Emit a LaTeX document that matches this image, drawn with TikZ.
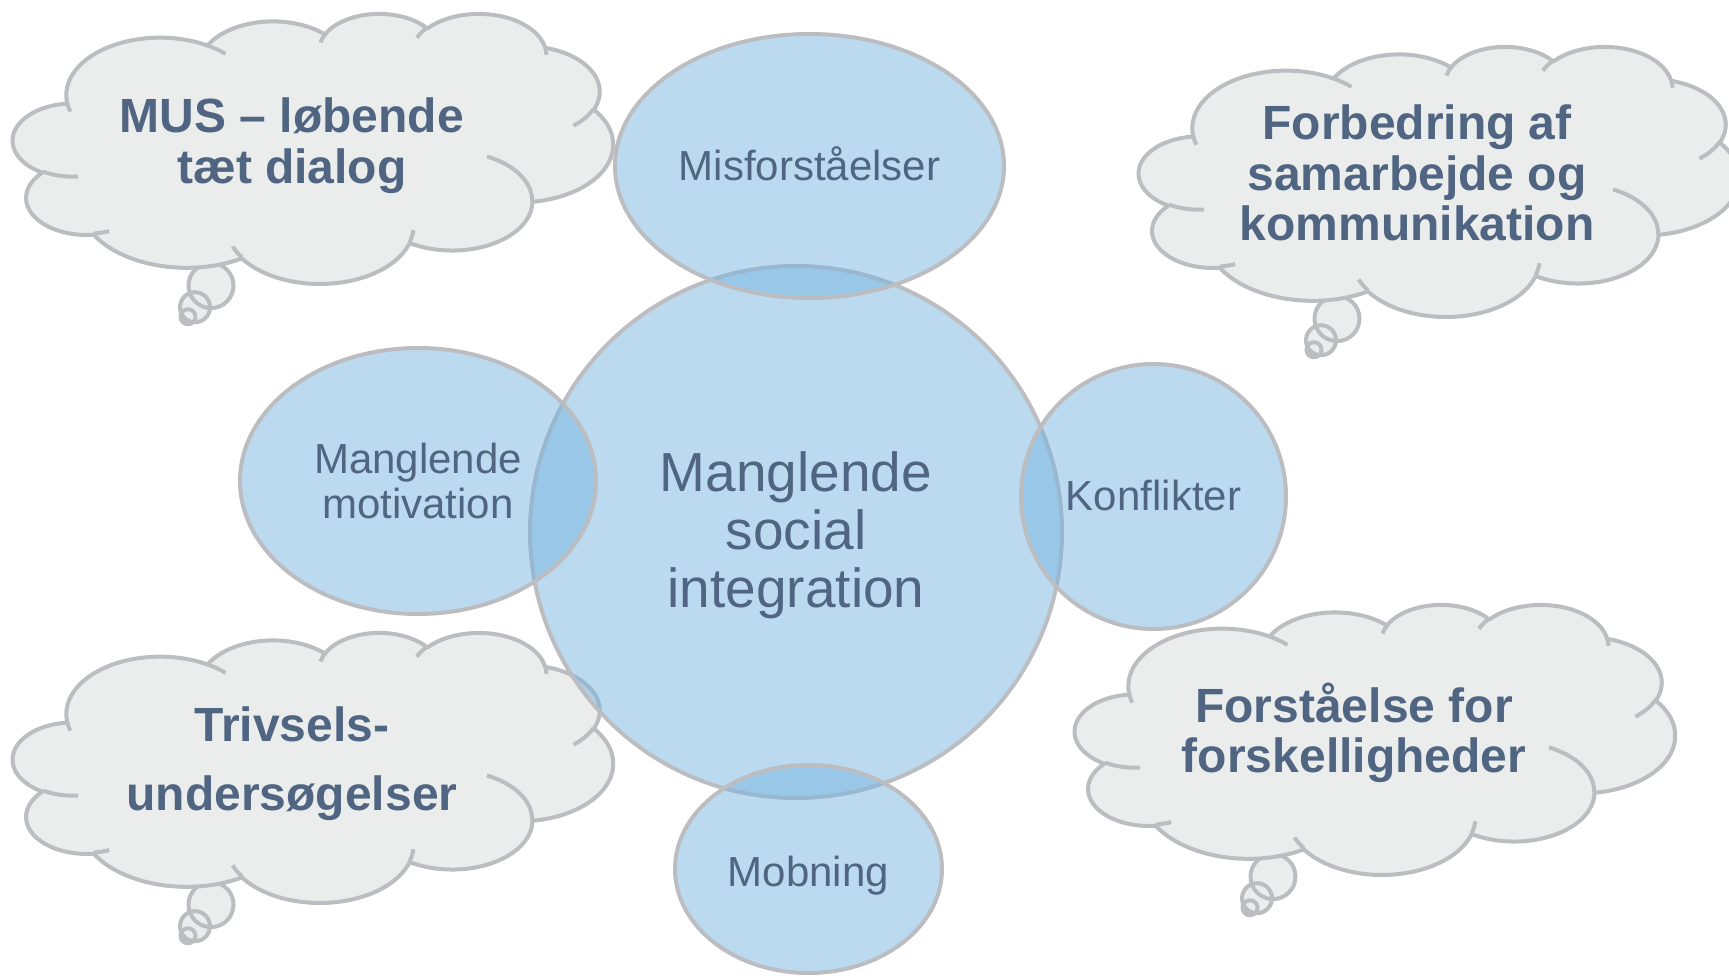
\documentclass[tikz,border=0pt]{standalone}
\usepackage{fontspec}
\setmainfont{Liberation Sans}
\usetikzlibrary{shapes.geometric}
\definecolor{vennfill}{RGB}{119,181,223}
\definecolor{edgegrey}{RGB}{188,189,192}
\definecolor{cloudfill}{RGB}{235,236,236}
\definecolor{txt}{RGB}{79,101,129}

% OOXML arcTo (geometric angles) -> TikZ parametric arcs
\gdef\oopath{}
\newcommand\ooarc[4]{%
  \pgfmathsetmacro\ooA{atan2((#1)*sin(#3),(#2)*cos(#3))}%
  \pgfmathsetmacro\ooB{atan2((#1)*sin((#3)+(#4)),(#2)*cos((#3)+(#4)))}%
  \pgfmathsetmacro\ooD{\ooB-(\ooA)}%
  \pgfmathsetmacro\ooD{ifthenelse((#4)>0,ifthenelse(\ooD<0,\ooD+360,\ooD),ifthenelse(\ooD>0,\ooD-360,\ooD))}%
  \xdef\oopath{\oopath arc[start angle=\ooA,delta angle=\ooD,x radius=#1,y radius=#2]}%
}
\newcommand\oomove[2]{\xdef\oopath{\oopath (#1,#2)}}

\gdef\oopath{}
\ooarc{6.753}{9.190}{-190.48748}{123.78053}
\ooarc{5.333}{7.267}{-144.10238}{89.94523}
\ooarc{4.365}{5.945}{-145.80792}{99.72302}
\ooarc{4.857}{6.595}{-130.98607}{117.24173}
\ooarc{5.333}{7.273}{-78.70888}{109.02692}
\ooarc{6.775}{9.220}{-46.26725}{130.269}
\ooarc{5.785}{7.867}{0.62502}{114.03333}
\ooarc{6.752}{9.215}{22.4516}{115.17255}
\ooarc{7.720}{10.543}{66.24263}{75.71102}
\ooarc{4.360}{5.918}{-274.94208}{146.73557}
\ooarc{4.345}{5.945}{-246.8285}{152.51885}
\global\let\cloudmain\oopath

\gdef\oopath{}
\oomove{4.693}{26.177}\ooarc{4.345}{5.945}{86.742}{26.4295}
\oomove{6.928}{34.899}\ooarc{4.360}{5.918}{73.61047}{11.44747}
\oomove{16.478}{39.090}\ooarc{6.752}{9.215}{137.62415}{14.0811}
\oomove{28.827}{34.751}\ooarc{6.752}{9.215}{6.45327}{15.99835}
\oomove{34.129}{22.954}\ooarc{5.785}{7.867}{-70.29235}{70.91737}
\oomove{41.798}{15.354}\ooarc{5.333}{7.273}{30.31803}{27.7515}
\oomove{38.324}{5.426}\ooarc{4.857}{6.595}{-13.74433}{14.8589}
\oomove{29.078}{3.952}\ooarc{4.857}{6.595}{-149.18145}{18.19537}
\oomove{22.141}{4.720}\ooarc{4.365}{5.945}{-163.49427}{17.68635}
\oomove{14.000}{5.192}\ooarc{6.753}{9.190}{-66.70695}{12.31935}
\oomove{4.127}{15.789}\ooarc{6.753}{9.190}{157.65435}{11.85817}
\global\let\cloudinner\oopath

\newcommand\cloudfillpath[1]{\path[cloudbody] (3.9,14.37) #1 -- cycle;}
\newcommand\cloudlinepath[1]{\path[cloudline] #1;}
\newcommand\cloudat[2]{%
  \begin{scope}[shift={(#1,#2)}]
    \path[fill=cloudfill] (198,272.6) circle[radius=22.5] (182,294.2) circle[radius=15] (175,303.75) circle[radius=7.5];
    \path[cloudline] (198,272.6) circle[radius=22.5] (182,294.2) circle[radius=15] (175,303.75) circle[radius=7.5];
  \end{scope}
  \begin{scope}[shift={(#1,#2)}, xscale=13.8889, yscale=6.25]
    \expandafter\cloudfillpath\expandafter{\cloudmain}
    \expandafter\cloudlinepath\expandafter{\cloudinner}
  \end{scope}
}

\tikzset{
  cloudbody/.style={fill=cloudfill, draw=edgegrey, line width=4pt, line join=round},
  cloudline/.style={draw=edgegrey, line width=4pt},
  cloudtext/.style={text=txt, align=center, font={\fontsize{48}{50.5}\selectfont\bfseries}},
  venn/.style={ellipse, draw=edgegrey, line width=4pt, fill=vennfill, fill opacity=0.5,
    draw opacity=1, inner sep=0pt},
  venntext/.style={text=txt, align=center, inner sep=0pt, font={\fontsize{42}{45}\selectfont}},
}

\begin{document}
\begin{tikzpicture}[x=1pt, y=-1pt]
  \useasboundingbox (0,0) rectangle (1729,976);
  \clip (0,0) rectangle (1729,976);

  % thought clouds
  \cloudat{13}{13}
  \cloudat{1139}{46}
  \cloudat{13}{632}
  \cloudat{1075}{604}

  \node[cloudtext] (mus) at (292,145.5) {MUS – løbende\\tæt dialog};
  \node[cloudtext] (forb) at (1417,173) {Forbedring af\\samarbejde og\\kommunikation};
  \node[cloudtext] (triv) at (292,763.5) {Trivsels-\\[19pt]undersøgelser};
  \node[cloudtext] (forst) at (1354,732.7) {Forståelse for\\forskelligheder};

  % Venn circles
  \node[venn, minimum width=532pt, minimum height=532pt] (soc) at (796,532) {};
  \node[venn, minimum width=389pt, minimum height=264pt] (misf) at (809.5,166) {};
  \node[venn, minimum width=356pt, minimum height=266pt] (motiv) at (418,481) {};
  \node[venn, minimum width=265pt, minimum height=265pt] (konf) at (1153.5,496.5) {};
  \node[venn, minimum width=267pt, minimum height=208pt] (mobn) at (808.5,869) {};

  \node[venntext, font={\fontsize{55}{58}\selectfont}] (socT) at (796,535.3) {Manglende\\social\\integration};
  \node[venntext] (misfT) at (809.5,163.8) {Misforståelser};
  \node[venntext] (motivT) at (418,480.5) {Manglende\\motivation};
  \node[venntext] (konfT) at (1153.5,495.4) {Konflikter};
  \node[venntext] (mobnT) at (808.5,875.6) {Mobning};
\end{tikzpicture}
\end{document}
